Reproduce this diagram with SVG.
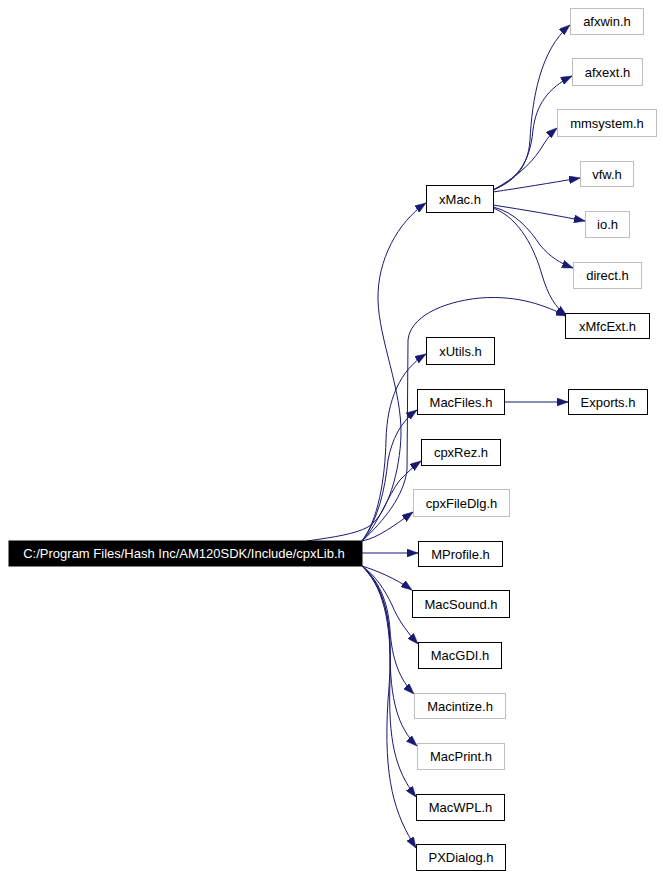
<svg xmlns="http://www.w3.org/2000/svg" width="663" height="878" viewBox="0 0 663 878">
<style>
  .bg { fill: #ffffff; }
  .n rect { fill: #ffffff; stroke: #000000; stroke-width: 1; }
  .n.g rect { stroke: #bfbfbf; }
  .n text { font-family: "Liberation Sans", Arial, sans-serif; font-size: 13px; fill: #000000; text-anchor: middle; }
  .root rect { fill: #000000; stroke: #000000; }
  .root text { fill: #ffffff; }
  .e path { fill: none; stroke: #191970; stroke-width: 1; marker-end: url(#arr); }
</style>
<defs>
  <marker id="arr" viewBox="0 0 11 8" refX="11" refY="4" markerWidth="11" markerHeight="8" markerUnits="userSpaceOnUse" orient="auto">
    <path d="M0,0 L11,4 L0,8 z" fill="#191970" stroke="#191970" stroke-width="0.5"/>
  </marker>
</defs>
<rect class="bg" x="0" y="0" width="663" height="878"/>
<g id="edges" class="e">
  <path d="M493,190 C512,182 528,170 530,140 C532,100 540,50 570,25"/>
  <path d="M493,190 C515,180 530,165 533,130 C536,105 548,88 572,76"/>
  <path d="M493,190 C515,178 530,165 540,150 C545,142 550,134 557,128"/>
  <path d="M493,192 C520,188 550,183 580,178"/>
  <path d="M493,205 C525,210 555,215 585,221"/>
  <path d="M493,207 C515,212 530,230 540,245 C550,257 560,263 573,268"/>
  <path d="M493,208 C520,218 535,250 542,275 C548,295 555,307 567,316"/>
  <path d="M504,402 L568,402"/>
  <path d="M307,541 C335,537 355,534 368,527 C388,515 400,470 401,435 C402,390 379,340 378,300 C377,260 398,222 426,203"/>
  <path d="M362,541 C385,520 404,495 407,470 L408,340 C410,318 440,302 480,298 C520,295 545,306 567,316"/>
  <path d="M362,541 C378,520 385,480 386,440 C387,400 400,370 426,354"/>
  <path d="M362,541 C378,520 385,490 388,460 C392,440 400,422 417,410"/>
  <path d="M362,541 C378,525 388,495 400,480 C408,472 414,466 421,461"/>
  <path d="M362,541 C378,538 395,525 413,512"/>
  <path d="M362,553 L418,553"/>
  <path d="M362,566 C375,570 395,578 412,590"/>
  <path d="M362,566 C375,575 385,590 392,605 C398,620 408,633 418,644"/>
  <path d="M362,566 C378,580 388,600 390,630 C392,660 400,680 414,694"/>
  <path d="M362,566 C380,582 390,610 390,650 C390,700 398,728 417,746"/>
  <path d="M362,566 C382,585 392,620 390,680 C388,740 395,770 416,797"/>
  <path d="M362,566 C385,590 395,620 388,700 C383,780 395,815 416,848"/>
</g>
<g id="root" class="n root"><rect x="9" y="541" width="353" height="25"/><text x="184" y="558">C:/Program Files/Hash Inc/AM120SDK/Include/cpxLib.h</text></g>
<g id="xMac" class="n"><rect x="426.5" y="185.5" width="67" height="27"/><text x="460" y="203.5">xMac.h</text></g>
<g id="afxwin" class="n g"><rect x="570.5" y="8.5" width="73" height="26"/><text x="607" y="26">afxwin.h</text></g>
<g id="afxext" class="n g"><rect x="572.5" y="58.5" width="70" height="27"/><text x="607.5" y="76.5">afxext.h</text></g>
<g id="mmsystem" class="n g"><rect x="557.5" y="109.5" width="99" height="27"/><text x="607" y="127.5">mmsystem.h</text></g>
<g id="vfw" class="n g"><rect x="580.5" y="161.5" width="53" height="25"/><text x="607" y="178.5">vfw.h</text></g>
<g id="io" class="n g"><rect x="585.5" y="211.5" width="44" height="26"/><text x="607.5" y="229">io.h</text></g>
<g id="direct" class="n g"><rect x="573.5" y="262.5" width="68" height="26"/><text x="607.5" y="280">direct.h</text></g>
<g id="xMfcExt" class="n"><rect x="565.5" y="313.5" width="84" height="25"/><text x="607.5" y="330.5">xMfcExt.h</text></g>
<g id="xUtils" class="n"><rect x="426.5" y="337.5" width="68" height="27"/><text x="460.5" y="355.5">xUtils.h</text></g>
<g id="MacFiles" class="n"><rect x="417.5" y="389.5" width="87" height="25"/><text x="461" y="406.5">MacFiles.h</text></g>
<g id="Exports" class="n"><rect x="568.5" y="389.5" width="79" height="25"/><text x="608" y="406.5">Exports.h</text></g>
<g id="cpxRez" class="n"><rect x="421.5" y="439.5" width="79" height="26"/><text x="461" y="457">cpxRez.h</text></g>
<g id="cpxFileDlg" class="n g"><rect x="413.5" y="489.5" width="96" height="27"/><text x="461.5" y="507.5">cpxFileDlg.h</text></g>
<g id="MProfile" class="n"><rect x="418.5" y="541.5" width="84" height="25"/><text x="460.5" y="558.5">MProfile.h</text></g>
<g id="MacSound" class="n"><rect x="412.5" y="590.5" width="97" height="27"/><text x="461" y="608.5">MacSound.h</text></g>
<g id="MacGDI" class="n"><rect x="418.5" y="642.5" width="83" height="26"/><text x="460" y="660">MacGDI.h</text></g>
<g id="Macintize" class="n g"><rect x="414.5" y="693.5" width="91" height="25"/><text x="460" y="710.5">Macintize.h</text></g>
<g id="MacPrint" class="n g"><rect x="417.5" y="743.5" width="87" height="26"/><text x="461" y="761">MacPrint.h</text></g>
<g id="MacWPL" class="n"><rect x="416.5" y="794.5" width="88" height="26"/><text x="460.5" y="812">MacWPL.h</text></g>
<g id="PXDialog" class="n"><rect x="416.5" y="844.5" width="89" height="26"/><text x="461" y="862">PXDialog.h</text></g>
</svg>
